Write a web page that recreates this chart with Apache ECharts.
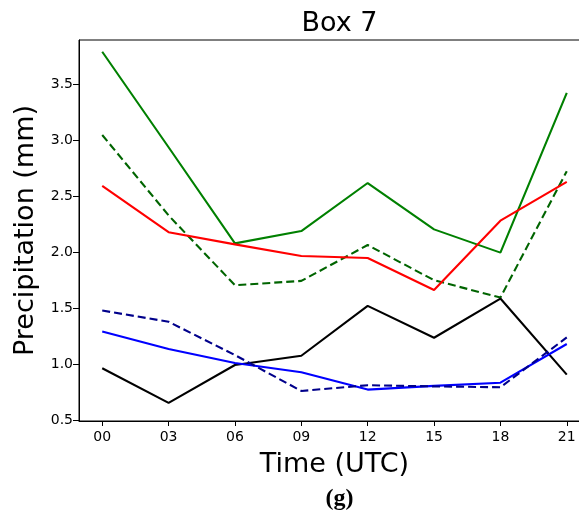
<!DOCTYPE html>
<html>
<head>
<meta charset="utf-8">
<script src="https://cdn.jsdelivr.net/npm/echarts@6/dist/echarts.min.js"></script>
<style>html,body{margin:0;padding:0;background:#fff}#c{width:579px;height:514px}</style>
</head>
<body>
<div id="c"></div>
<script>
const categories = ['00','03','06','09','12','15','18','21'];
const yTicks = [0.5,1.0,1.5,2.0,2.5,3.0,3.5];
const greenSolid = [3.795,2.94,2.08,2.19,2.62,2.205,1.997,3.426];
const greenDashed = [3.05,2.33,1.705,1.744,2.065,1.75,1.595,2.726];
const redSolid = [2.595,2.18,2.071,1.967,1.949,1.663,2.283,2.631];
const blackSolid = [0.962,0.652,0.991,1.074,1.52,1.235,1.586,0.905];
const blueSolid = [1.292,1.134,1.009,0.926,0.771,0.804,0.833,1.179];
const blueDashed = [1.479,1.378,1.08,0.759,0.81,0.80,0.792,1.238];

const toPts = arr => arr.map((v,i)=>[i,v]);
const font = 'DejaVu Sans';
function line(data,color,dashed){
  return {type:'line',data:toPts(data),symbol:'none',silent:true,
    lineStyle:{color:color,width:2.1,type:dashed?[8,4]:'solid',cap:'butt'}};
}
const chart = echarts.init(document.getElementById('c'),null,{renderer:'canvas'});
chart.setOption({
  animation:false,
  backgroundColor:'#fff',
  title:[
    {text:'Box 7',left:334.5,top:5,textAlign:'center',textStyle:{fontFamily:font,fontSize:27,fontWeight:'normal',color:'#000'}},
    {text:'(g)',left:334.5,top:482,textAlign:'center',textStyle:{fontFamily:'Liberation Serif',fontSize:24,fontWeight:'bold',color:'#000'}}
  ],
  grid:{left:79,top:40,width:511,height:381,show:true,borderColor:'#000',borderWidth:1,containLabel:false,outerBoundsMode:'none'},
  xAxis:{type:'value',min:-0.35,max:7.35,
    name:'Time (UTC)',nameLocation:'middle',nameGap:30,
    nameTextStyle:{fontFamily:font,fontSize:27,color:'#000'},
    axisLine:{show:true,onZero:false,lineStyle:{color:'#000',width:1}},
    axisTick:{show:true,length:5,customValues:[0,1,2,3,4,5,6,7],lineStyle:{color:'#000'}},
    axisLabel:{customValues:[0,1,2,3,4,5,6,7],formatter:v=>categories[Math.round(v)],fontFamily:font,fontSize:14,color:'#000',margin:9},
    splitLine:{show:false}},
  yAxis:{type:'value',min:0.49,max:3.9,
    name:'Precipitation (mm)',nameLocation:'middle',nameGap:33,
    nameTextStyle:{fontFamily:font,fontSize:27,color:'#000'},
    axisLine:{show:true,onZero:false,lineStyle:{color:'#000',width:1}},
    axisTick:{show:true,length:6,customValues:yTicks,lineStyle:{color:'#000'}},
    axisLabel:{customValues:yTicks,formatter:v=>v.toFixed(1),fontFamily:font,fontSize:14,color:'#000',margin:6},
    splitLine:{show:false}},
  series:[
    line(greenSolid,'#008000',false),
    line(greenDashed,'#006400',true),
    line(redSolid,'#ff0000',false),
    line(blackSolid,'#000000',false),
    line(blueSolid,'#0000ff',false),
    line(blueDashed,'#00008b',true)
  ]
});
</script>
</body>
</html>
